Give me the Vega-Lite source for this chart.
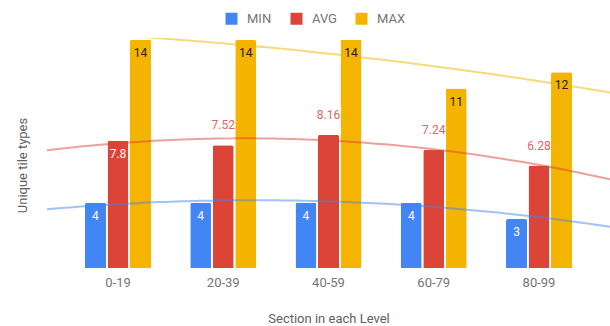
{
  "$schema": "https://vega.github.io/schema/vega-lite/v6.json",
  "width": 563,
  "height": 230,
  "autosize": "none",
  "padding": {"left": 47, "top": 38, "right": 0, "bottom": 58},
  "config": {
    "view": {"stroke": null},
    "font": "Roboto",
    "axis": {"grid": false, "ticks": false, "domain": false}
  },
  "data": {
    "values": [
      {"section": "0-19", "series": "MIN", "value": 4},
      {"section": "0-19", "series": "AVG", "value": 7.8},
      {"section": "0-19", "series": "MAX", "value": 14},
      {"section": "20-39", "series": "MIN", "value": 4},
      {"section": "20-39", "series": "AVG", "value": 7.52},
      {"section": "20-39", "series": "MAX", "value": 14},
      {"section": "40-59", "series": "MIN", "value": 4},
      {"section": "40-59", "series": "AVG", "value": 8.16},
      {"section": "40-59", "series": "MAX", "value": 14},
      {"section": "60-79", "series": "MIN", "value": 4},
      {"section": "60-79", "series": "AVG", "value": 7.24},
      {"section": "60-79", "series": "MAX", "value": 11},
      {"section": "80-99", "series": "MIN", "value": 3},
      {"section": "80-99", "series": "AVG", "value": 6.28},
      {"section": "80-99", "series": "MAX", "value": 12}
    ]
  },
  "layer": [
    {
      "mark": {"type": "bar", "cornerRadiusTopLeft": 2, "cornerRadiusTopRight": 2},
      "encoding": {
        "x": {
          "field": "section", "type": "nominal",
          "scale": {"domain": ["0-19", "20-39", "40-59", "60-79", "80-99"], "paddingInner": 0.373, "paddingOuter": 0.361},
          "axis": {
            "title": "Section in each Level", "labelAngle": 0, "labelFontSize": 13, "labelColor": "#757575",
            "labelPadding": 8, "titleFontSize": 13, "titleFontWeight": "normal", "titleColor": "#616161",
            "titleY": 54, "titleBaseline": "alphabetic"
          }
        },
        "xOffset": {
          "field": "series", "type": "nominal",
          "scale": {"domain": ["MIN", "AVG", "MAX"], "paddingInner": 0.067, "paddingOuter": 0}
        },
        "y": {
          "field": "value", "type": "quantitative",
          "scale": {"domain": [0, 14.1], "nice": false},
          "axis": {
            "title": "Unique tile types", "labels": false, "titleFontSize": 13, "titleFontWeight": "normal",
            "titleColor": "#616161", "titleX": -25, "titleY": 127, "titleAngle": -90,
            "titleBaseline": "middle", "titleAlign": "center"
          }
        },
        "color": {
          "field": "series", "type": "nominal",
          "scale": {"domain": ["MIN", "AVG", "MAX"], "range": ["#4285F4", "#DB4437", "#F4B400"]},
          "legend": {
            "title": null, "orient": "none", "direction": "horizontal", "legendX": 178, "legendY": -26,
            "symbolType": "square", "symbolSize": 144, "symbolStrokeWidth": 0, "symbolOpacity": 1,
            "labelFontSize": 13, "labelColor": "#757575", "labelOffset": 9, "columnPadding": 18, "padding": 0
          }
        }
      }
    },
    {
      "transform": [
        {"window": [{"op": "row_number", "as": "i"}], "groupby": ["series"], "sort": [{"field": "section"}]},
        {"regression": "value", "on": "i", "groupby": ["series"], "method": "poly", "order": 2, "extent": [0.325, 5.675]}
      ],
      "mark": {"type": "line", "strokeWidth": 2, "strokeOpacity": 0.5, "clip": true},
      "encoding": {
        "x": {"field": "i", "type": "quantitative", "scale": {"domain": [0.325, 5.675], "nice": false, "zero": false}, "axis": null},
        "y": {"field": "value", "type": "quantitative"},
        "stroke": {"field": "series", "type": "nominal", "scale": {"domain": ["MIN", "AVG", "MAX"], "range": ["#4285F4", "#DB4437", "#F4B400"]}, "legend": null}
      }
    },
    {
      "transform": [{"filter": "length(toString(datum.value)) <= 3"}],
      "mark": {"type": "text", "fontSize": 12, "baseline": "middle", "dy": 13},
      "encoding": {
        "x": {
          "field": "section", "type": "nominal",
          "scale": {"domain": ["0-19", "20-39", "40-59", "60-79", "80-99"], "paddingInner": 0.373, "paddingOuter": 0.361},
          "axis": null
        },
        "xOffset": {"field": "series", "type": "nominal"},
        "y": {"field": "value", "type": "quantitative"},
        "text": {"field": "value", "type": "quantitative"},
        "color": {"condition": {"test": "datum.series === 'MAX'", "value": "#212121"}, "value": "#ffffff"}
      }
    },
    {
      "transform": [{"filter": "length(toString(datum.value)) > 3"}],
      "mark": {"type": "text", "fontSize": 12, "baseline": "middle", "dy": -20, "color": "#e0665c"},
      "encoding": {
        "x": {
          "field": "section", "type": "nominal",
          "scale": {"domain": ["0-19", "20-39", "40-59", "60-79", "80-99"], "paddingInner": 0.373, "paddingOuter": 0.361},
          "axis": null
        },
        "xOffset": {"field": "series", "type": "nominal"},
        "y": {"field": "value", "type": "quantitative"},
        "text": {"field": "value", "type": "quantitative"}
      }
    }
  ],
  "resolve": {"scale": {"x": "independent"}}
}
